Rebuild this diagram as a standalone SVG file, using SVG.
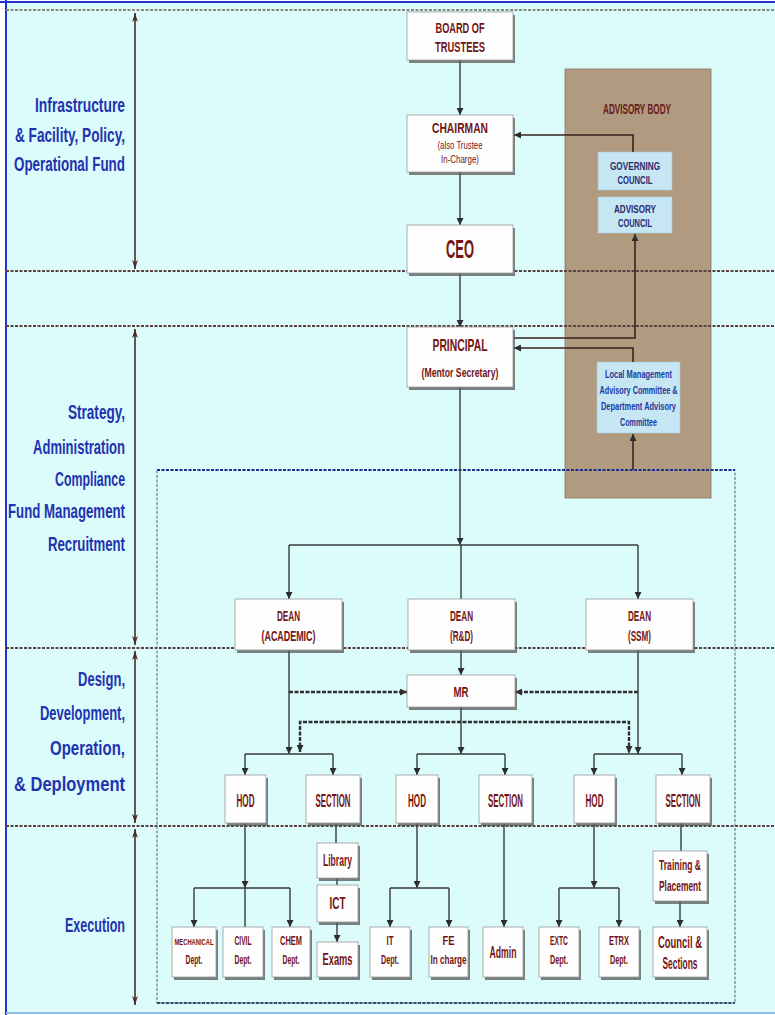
<svg xmlns="http://www.w3.org/2000/svg" width="775" height="1015" viewBox="0 0 775 1015">
<defs>
<style>
.bg{fill:#dcfbfb}
.box{fill:#fefefe;stroke:#9a9a9a;stroke-width:0.8}
.sh{fill:#555;opacity:0.75}
.t{font-family:"Liberation Sans",Arial,sans-serif;font-weight:bold;fill:#741414;text-anchor:middle}
.lb{font-family:"Liberation Sans",Arial,sans-serif;font-weight:bold;fill:#2233b0;text-anchor:end;font-size:21px}
.bt{font-family:"Liberation Sans",Arial,sans-serif;font-weight:bold;fill:#2a2a6e;text-anchor:middle;font-size:10px}
.lm{font-family:"Liberation Sans",Arial,sans-serif;font-weight:bold;fill:#1d3a9e;text-anchor:middle;font-size:10px}
.sec{stroke:#5a4242;stroke-width:2;stroke-dasharray:3 1.5;fill:none}
.c{stroke:#3a3a3a;stroke-width:1.4;fill:none}
.ca{stroke:#3a2222;stroke-width:1.6;fill:none}
.d{stroke:#2e2e2e;stroke-width:2.4;stroke-dasharray:4 1.5;fill:none}
.lr{stroke:#4a2a2a;stroke-width:1.6;fill:none}
.lbox{fill:#c6e6f4;stroke:#a9c9d9;stroke-width:0.6}
</style>
<marker id="a" markerWidth="7" markerHeight="7" refX="7" refY="3.5" orient="auto" markerUnits="userSpaceOnUse"><path d="M0,0 L7,3.5 L0,7 z" fill="#2e2e2e"/></marker>
<marker id="lr" markerWidth="9" markerHeight="14" refX="14" refY="4.5" orient="auto-start-reverse" markerUnits="userSpaceOnUse" viewBox="0 0 14 9"><path d="M0,0 L14,4.5 L0,9 L4,4.5 z" fill="#4a2a2a"/></marker>
</defs>

<rect x="0" y="0" width="775" height="1015" fill="#ffffff"/>
<rect class="bg" x="6" y="2" width="769" height="1011"/>
<line x1="6" y1="0" x2="6" y2="1015" stroke="#2233cc" stroke-width="2"/>
<line x1="0" y1="2" x2="775" y2="2" stroke="#2233cc" stroke-width="2"/>
<line x1="6" y1="1013" x2="775" y2="1013" stroke="#8fb8ee" stroke-width="2"/>

<g id="advisory-body">
<rect x="565" y="69" width="146" height="429" fill="#b09a80" stroke="#8a7660" stroke-width="0.8"/>
<text class="t" x="637" y="114" font-size="15" textLength="68" lengthAdjust="spacingAndGlyphs" style="fill:#6a1a1a">ADVISORY BODY</text>
</g>
<g id="governing-council">
<rect class="lbox" x="598" y="152" width="74" height="38"/>
<text class="bt" x="635" y="170" textLength="50" lengthAdjust="spacingAndGlyphs">GOVERNING</text>
<text class="bt" x="635" y="184" textLength="35" lengthAdjust="spacingAndGlyphs">COUNCIL</text>
</g>
<g id="advisory-council">
<rect class="lbox" x="598" y="197" width="74" height="36"/>
<text class="bt" x="635" y="213" textLength="42" lengthAdjust="spacingAndGlyphs">ADVISORY</text>
<text class="bt" x="635" y="227" textLength="34" lengthAdjust="spacingAndGlyphs">COUNCIL</text>
</g>
<g id="local-management">
<rect class="lbox" x="597" y="362" width="83" height="71"/>
<text class="lm" x="638.5" y="378" textLength="67" lengthAdjust="spacingAndGlyphs">Local Management</text>
<text class="lm" x="638.5" y="394" textLength="78" lengthAdjust="spacingAndGlyphs">Advisory Committee &amp;</text>
<text class="lm" x="638.5" y="410" textLength="75" lengthAdjust="spacingAndGlyphs">Department Advisory</text>
<text class="lm" x="638.5" y="426" textLength="37" lengthAdjust="spacingAndGlyphs">Committee</text>
</g>

<g id="section-lines">
<line class="sec" x1="6" y1="10" x2="775" y2="10" style="stroke:#8a8a7a"/>
<line class="sec" x1="6" y1="271" x2="775" y2="271"/>
<line class="sec" x1="6" y1="326" x2="775" y2="326"/>
<line class="sec" x1="6" y1="648" x2="775" y2="648"/>
<line class="sec" x1="6" y1="826" x2="775" y2="826"/>
<rect x="157" y="470" width="578" height="533" fill="none" stroke="#6a7a9a" stroke-width="1.2" stroke-dasharray="3 1.5"/>
<line x1="157" y1="470" x2="735" y2="470" stroke="#1f2f8f" stroke-width="2" stroke-dasharray="3 1.5"/>
<line x1="157" y1="1003" x2="735" y2="1003" stroke="#3a4a6a" stroke-width="2" stroke-dasharray="3 1.5"/>
</g>

<g id="left-labels">
<line class="lr" x1="135" y1="13" x2="135" y2="269" marker-start="url(#lr)" marker-end="url(#lr)"/>
<line class="lr" x1="135" y1="329" x2="135" y2="645" marker-start="url(#lr)" marker-end="url(#lr)"/>
<line class="lr" x1="135" y1="651" x2="135" y2="823" marker-start="url(#lr)" marker-end="url(#lr)"/>
<line class="lr" x1="135" y1="829" x2="135" y2="1005" marker-start="url(#lr)" marker-end="url(#lr)"/>
<text class="lb" x="125" y="112" textLength="90" lengthAdjust="spacingAndGlyphs">Infrastructure</text>
<text class="lb" x="125" y="142" textLength="110" lengthAdjust="spacingAndGlyphs">&amp; Facility, Policy,</text>
<text class="lb" x="125" y="171" textLength="111" lengthAdjust="spacingAndGlyphs">Operational Fund</text>
<text class="lb" x="125" y="419" textLength="57" lengthAdjust="spacingAndGlyphs">Strategy,</text>
<text class="lb" x="125" y="454" textLength="92" lengthAdjust="spacingAndGlyphs">Administration</text>
<text class="lb" x="125" y="486" textLength="70" lengthAdjust="spacingAndGlyphs">Compliance</text>
<text class="lb" x="125" y="518" textLength="117" lengthAdjust="spacingAndGlyphs">Fund Management</text>
<text class="lb" x="125" y="551" textLength="77" lengthAdjust="spacingAndGlyphs">Recruitment</text>
<text class="lb" x="125" y="686" textLength="47" lengthAdjust="spacingAndGlyphs">Design,</text>
<text class="lb" x="125" y="720" textLength="85" lengthAdjust="spacingAndGlyphs">Development,</text>
<text class="lb" x="125" y="755" textLength="75" lengthAdjust="spacingAndGlyphs">Operation,</text>
<text class="lb" x="125" y="791" textLength="111" lengthAdjust="spacingAndGlyphs">&amp; Deployment</text>
<text class="lb" x="125" y="932" textLength="60" lengthAdjust="spacingAndGlyphs">Execution</text>
</g>

<g id="connectors">
<line class="c" x1="460" y1="60" x2="460" y2="115" marker-end="url(#a)"/>
<line class="c" x1="460" y1="172" x2="460" y2="225" marker-end="url(#a)"/>
<line class="c" x1="460" y1="273" x2="460" y2="327" marker-end="url(#a)"/>
<line class="c" x1="460" y1="387" x2="460" y2="545" marker-end="url(#a)"/>
<path class="c" d="M289,545 H638"/>
<line class="c" x1="289" y1="545" x2="289" y2="599" marker-end="url(#a)"/>
<line class="c" x1="638" y1="545" x2="638" y2="599" marker-end="url(#a)"/>
<line class="c" x1="461" y1="545" x2="461" y2="599"/>
<path class="ca" d="M633,152 V135 H514" marker-end="url(#a)"/>
<path class="ca" d="M514,338 H635 V234" marker-end="url(#a)"/>
<path class="ca" d="M633,362 V348 H514" marker-end="url(#a)"/>
<line class="ca" x1="633" y1="470" x2="633" y2="434" marker-end="url(#a)"/>
<line class="c" x1="461" y1="650" x2="461" y2="675" marker-end="url(#a)"/>
<line class="c" x1="289" y1="650" x2="289" y2="754" marker-end="url(#a)"/>
<line class="c" x1="638" y1="650" x2="638" y2="754" marker-end="url(#a)"/>
<line class="d" x1="289" y1="692" x2="407" y2="692" marker-end="url(#a)"/>
<line class="d" x1="638" y1="692" x2="515" y2="692" marker-end="url(#a)"/>
<line class="c" x1="461" y1="707" x2="461" y2="754" marker-end="url(#a)"/>
<path class="d" d="M300,752 V722 H629 V752"/>
<path class="c" d="M300,745 V752" marker-end="url(#a)"/>
<path class="c" d="M629,745 V753" marker-end="url(#a)"/>
<path class="c" d="M245,754 H333"/>
<line class="c" x1="245" y1="754" x2="245" y2="775" marker-end="url(#a)"/>
<line class="c" x1="333" y1="754" x2="333" y2="775" marker-end="url(#a)"/>
<path class="c" d="M417,754 H505"/>
<line class="c" x1="417" y1="754" x2="417" y2="775" marker-end="url(#a)"/>
<line class="c" x1="505" y1="754" x2="505" y2="775" marker-end="url(#a)"/>
<path class="c" d="M594,754 H682"/>
<line class="c" x1="594" y1="754" x2="594" y2="775" marker-end="url(#a)"/>
<line class="c" x1="682" y1="754" x2="682" y2="775" marker-end="url(#a)"/>
<line class="c" x1="245" y1="823" x2="245" y2="888" marker-end="url(#a)"/>
<path class="c" d="M194,888 H290"/>
<line class="c" x1="194" y1="888" x2="194" y2="927" marker-end="url(#a)"/>
<line class="c" x1="290" y1="888" x2="290" y2="927" marker-end="url(#a)"/>
<line class="c" x1="245" y1="888" x2="245" y2="927"/>
<line class="c" x1="336" y1="823" x2="336" y2="843"/>
<line class="c" x1="337" y1="878" x2="337" y2="885"/>
<line class="c" x1="337" y1="922" x2="337" y2="942" marker-end="url(#a)"/>
<line class="c" x1="417" y1="823" x2="417" y2="888" marker-end="url(#a)"/>
<path class="c" d="M390,888 H449"/>
<line class="c" x1="390" y1="888" x2="390" y2="927" marker-end="url(#a)"/>
<line class="c" x1="449" y1="888" x2="449" y2="927" marker-end="url(#a)"/>
<line class="c" x1="504" y1="823" x2="504" y2="927" marker-end="url(#a)"/>
<line class="c" x1="594" y1="823" x2="594" y2="888" marker-end="url(#a)"/>
<path class="c" d="M559,888 H619"/>
<line class="c" x1="559" y1="888" x2="559" y2="927" marker-end="url(#a)"/>
<line class="c" x1="619" y1="888" x2="619" y2="927" marker-end="url(#a)"/>
<line class="c" x1="681" y1="823" x2="681" y2="851"/>
<line class="c" x1="680" y1="901" x2="680" y2="927" marker-end="url(#a)"/>
</g>

<g id="board-of-trustees">
<rect class="sh" x="409" y="15" width="106" height="48"/><rect class="box" x="407" y="12" width="106" height="48"/>
<text class="t" x="460" y="33" font-size="15" textLength="49" lengthAdjust="spacingAndGlyphs">BOARD OF</text>
<text class="t" x="460" y="52" font-size="15" textLength="50" lengthAdjust="spacingAndGlyphs">TRUSTEES</text>
</g>
<g id="chairman">
<rect class="sh" x="409" y="118" width="106" height="57"/><rect class="box" x="407" y="115" width="106" height="57"/>
<text class="t" x="460" y="133" font-size="15" textLength="56" lengthAdjust="spacingAndGlyphs">CHAIRMAN</text>
<text class="t" x="460" y="149" font-size="11" textLength="45" lengthAdjust="spacingAndGlyphs" style="font-weight:normal">(also Trustee</text>
<text class="t" x="460" y="163" font-size="11" textLength="38" lengthAdjust="spacingAndGlyphs" style="font-weight:normal">In-Charge)</text>
</g>
<g id="ceo">
<rect class="sh" x="409" y="228" width="106" height="48"/><rect class="box" x="407" y="225" width="106" height="48"/>
<text class="t" x="460" y="258" font-size="26" textLength="28" lengthAdjust="spacingAndGlyphs">CEO</text>
</g>
<g id="principal">
<rect class="sh" x="409" y="330" width="106" height="60"/><rect class="box" x="407" y="327" width="106" height="60"/>
<text class="t" x="460" y="351" font-size="17" textLength="55" lengthAdjust="spacingAndGlyphs">PRINCIPAL</text>
<text class="t" x="460" y="377" font-size="13" textLength="77" lengthAdjust="spacingAndGlyphs">(Mentor Secretary)</text>
</g>
<g id="dean-academic">
<rect class="sh" x="237" y="602" width="107" height="51"/><rect class="box" x="235" y="599" width="107" height="51"/>
<text class="t" x="288.5" y="621" font-size="15" textLength="23" lengthAdjust="spacingAndGlyphs">DEAN</text>
<text class="t" x="288.5" y="641" font-size="15" textLength="54" lengthAdjust="spacingAndGlyphs">(ACADEMIC)</text>
</g>
<g id="dean-rd">
<rect class="sh" x="410" y="602" width="107" height="51"/><rect class="box" x="408" y="599" width="107" height="51"/>
<text class="t" x="461.5" y="621" font-size="15" textLength="23" lengthAdjust="spacingAndGlyphs">DEAN</text>
<text class="t" x="461.5" y="641" font-size="15" textLength="23" lengthAdjust="spacingAndGlyphs">(R&amp;D)</text>
</g>
<g id="dean-ssm">
<rect class="sh" x="588" y="602" width="107" height="51"/><rect class="box" x="586" y="599" width="107" height="51"/>
<text class="t" x="639.5" y="621" font-size="15" textLength="23" lengthAdjust="spacingAndGlyphs">DEAN</text>
<text class="t" x="639.5" y="641" font-size="15" textLength="23" lengthAdjust="spacingAndGlyphs">(SSM)</text>
</g>
<g id="mr">
<rect class="sh" x="409" y="678" width="108" height="32"/><rect class="box" x="407" y="675" width="108" height="32"/>
<text class="t" x="461" y="697" font-size="15" textLength="15" lengthAdjust="spacingAndGlyphs">MR</text>
</g>
<g id="hod-1">
<rect class="sh" x="227" y="778" width="41" height="48"/><rect class="box" x="225" y="775" width="41" height="48"/>
<text class="t" x="245.5" y="807" font-size="18" textLength="18" lengthAdjust="spacingAndGlyphs">HOD</text>
</g>
<g id="section-1">
<rect class="sh" x="308" y="778" width="54" height="48"/><rect class="box" x="306" y="775" width="54" height="48"/>
<text class="t" x="333" y="807" font-size="18" textLength="35" lengthAdjust="spacingAndGlyphs">SECTION</text>
</g>
<g id="hod-2">
<rect class="sh" x="398" y="778" width="42" height="48"/><rect class="box" x="396" y="775" width="42" height="48"/>
<text class="t" x="417" y="807" font-size="18" textLength="18" lengthAdjust="spacingAndGlyphs">HOD</text>
</g>
<g id="section-2">
<rect class="sh" x="481" y="778" width="53" height="48"/><rect class="box" x="479" y="775" width="53" height="48"/>
<text class="t" x="505.5" y="807" font-size="18" textLength="35" lengthAdjust="spacingAndGlyphs">SECTION</text>
</g>
<g id="hod-3">
<rect class="sh" x="576" y="778" width="41" height="48"/><rect class="box" x="574" y="775" width="41" height="48"/>
<text class="t" x="594.5" y="807" font-size="18" textLength="18" lengthAdjust="spacingAndGlyphs">HOD</text>
</g>
<g id="section-3">
<rect class="sh" x="658" y="778" width="54" height="48"/><rect class="box" x="656" y="775" width="54" height="48"/>
<text class="t" x="683" y="807" font-size="18" textLength="35" lengthAdjust="spacingAndGlyphs">SECTION</text>
</g>
<g id="mechanical">
<rect class="sh" x="174" y="930" width="44" height="50"/><rect class="box" x="172" y="927" width="44" height="50"/>
<text class="t" x="194" y="945" font-size="8.5" textLength="39" lengthAdjust="spacingAndGlyphs">MECHANICAL</text>
<text class="t" x="194" y="964" font-size="13" textLength="17" lengthAdjust="spacingAndGlyphs">Dept.</text>
</g>
<g id="civil">
<rect class="sh" x="225" y="930" width="40" height="50"/><rect class="box" x="223" y="927" width="40" height="50"/>
<text class="t" x="243" y="945" font-size="12" textLength="17" lengthAdjust="spacingAndGlyphs">CIVIL</text>
<text class="t" x="243" y="964" font-size="13" textLength="17" lengthAdjust="spacingAndGlyphs">Dept.</text>
</g>
<g id="chem">
<rect class="sh" x="274" y="930" width="38" height="50"/><rect class="box" x="272" y="927" width="38" height="50"/>
<text class="t" x="291" y="945" font-size="12" textLength="22" lengthAdjust="spacingAndGlyphs">CHEM</text>
<text class="t" x="291" y="964" font-size="13" textLength="17" lengthAdjust="spacingAndGlyphs">Dept.</text>
</g>
<g id="library">
<rect class="sh" x="319" y="846" width="41" height="35"/><rect class="box" x="317" y="843" width="41" height="35"/>
<text class="t" x="337.5" y="866" font-size="16" textLength="29" lengthAdjust="spacingAndGlyphs">Library</text>
</g>
<g id="ict">
<rect class="sh" x="319" y="888" width="41" height="37"/><rect class="box" x="317" y="885" width="41" height="37"/>
<text class="t" x="337.5" y="909" font-size="16" textLength="16" lengthAdjust="spacingAndGlyphs">ICT</text>
</g>
<g id="exams">
<rect class="sh" x="319" y="945" width="41" height="35"/><rect class="box" x="317" y="942" width="41" height="35"/>
<text class="t" x="337.5" y="965" font-size="16" textLength="30" lengthAdjust="spacingAndGlyphs">Exams</text>
</g>
<g id="it">
<rect class="sh" x="372" y="930" width="40" height="50"/><rect class="box" x="370" y="927" width="40" height="50"/>
<text class="t" x="390" y="945" font-size="12" textLength="7" lengthAdjust="spacingAndGlyphs">IT</text>
<text class="t" x="390" y="964" font-size="13" textLength="18" lengthAdjust="spacingAndGlyphs">Dept.</text>
</g>
<g id="fe">
<rect class="sh" x="431" y="930" width="39" height="50"/><rect class="box" x="429" y="927" width="39" height="50"/>
<text class="t" x="448.5" y="945" font-size="12" textLength="12" lengthAdjust="spacingAndGlyphs">FE</text>
<text class="t" x="448.5" y="964" font-size="12" textLength="36" lengthAdjust="spacingAndGlyphs">In charge</text>
</g>
<g id="admin">
<rect class="sh" x="485" y="930" width="40" height="50"/><rect class="box" x="483" y="927" width="40" height="50"/>
<text class="t" x="503" y="958" font-size="16" textLength="27" lengthAdjust="spacingAndGlyphs">Admin</text>
</g>
<g id="extc">
<rect class="sh" x="541" y="930" width="40" height="50"/><rect class="box" x="539" y="927" width="40" height="50"/>
<text class="t" x="559" y="945" font-size="12" textLength="18" lengthAdjust="spacingAndGlyphs">EXTC</text>
<text class="t" x="559" y="964" font-size="13" textLength="18" lengthAdjust="spacingAndGlyphs">Dept.</text>
</g>
<g id="etrx">
<rect class="sh" x="601" y="930" width="40" height="50"/><rect class="box" x="599" y="927" width="40" height="50"/>
<text class="t" x="619" y="945" font-size="12" textLength="20" lengthAdjust="spacingAndGlyphs">ETRX</text>
<text class="t" x="619" y="964" font-size="13" textLength="18" lengthAdjust="spacingAndGlyphs">Dept.</text>
</g>
<g id="training-placement">
<rect class="sh" x="655" y="854" width="54" height="50"/><rect class="box" x="653" y="851" width="54" height="50"/>
<text class="t" x="680" y="870" font-size="15" textLength="42" lengthAdjust="spacingAndGlyphs">Training &amp;</text>
<text class="t" x="680" y="891" font-size="15" textLength="42" lengthAdjust="spacingAndGlyphs">Placement</text>
</g>
<g id="council-sections">
<rect class="sh" x="655" y="930" width="54" height="50"/><rect class="box" x="653" y="927" width="54" height="50"/>
<text class="t" x="680" y="948" font-size="16" textLength="44" lengthAdjust="spacingAndGlyphs">Council &amp;</text>
<text class="t" x="680" y="969" font-size="16" textLength="35" lengthAdjust="spacingAndGlyphs">Sections</text>
</g>
</svg>
